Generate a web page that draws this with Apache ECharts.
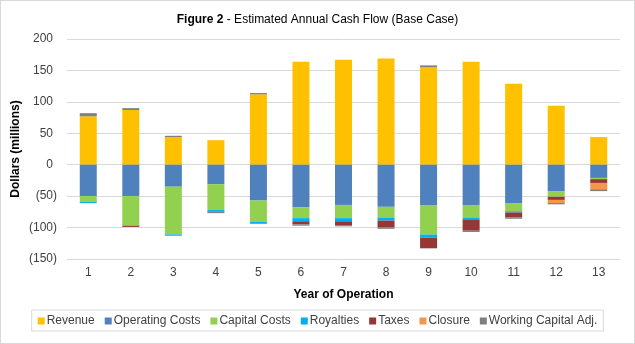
<!DOCTYPE html>
<html>
<head>
<meta charset="utf-8">
<script src="https://cdn.jsdelivr.net/npm/echarts@6/dist/echarts.min.js"></script>
<style>
  html, body { margin: 0; padding: 0; background: #fff; }
  #chart { position: absolute; left: 0; top: 0; width: 633px; height: 342px; border: 1px solid #d9d9d9; }
</style>
</head>
<body>
<div id="chart"></div>
<script>
// Annual cash flow components, $ millions
const years = ['1', '2', '3', '4', '5', '6', '7', '8', '9', '10', '11', '12', '13'];
const revenue = [77, 87, 44, 39, 112, 164, 167, 169, 155, 164, 129, 94, 44];
const operatingCosts = [-50, -50, -35, -31, -57, -68, -64, -67, -65, -65, -61, -42, -21];
const capitalCosts = [-9, -47, -76, -41, -34, -17, -21, -17, -46, -19, -13, -9, -2];
const royalties = [-2, 0, -2, -2, -3, -5, -5, -5, -5, -3, -2, 0, 0];
const taxes = [0, -2, 0, 0, 0, -5, -6, -11, -17, -18, -8, -5, -6];
const closure = [0, 0, 0, 0, 0, 0, 0, 0, 0, 0, 0, -5, -10];
const workingCapital = [5, 3, 2, -3, 2, -2, -2, -2, 3, -2, -2, -2, -3];

const seriesDefs = [
  ['Revenue', revenue, '#FFC000'],
  ['Operating Costs', operatingCosts, '#4F81BD'],
  ['Capital Costs', capitalCosts, '#92D050'],
  ['Royalties', royalties, '#00B0F0'],
  ['Taxes', taxes, '#953735'],
  ['Closure', closure, '#F79646'],
  ['Working Capital Adj.', workingCapital, '#7F7F7F']
];

const font = '"Liberation Sans", Arial, sans-serif';
const chart = echarts.init(document.getElementById('chart'));

chart.setOption({
  animation: false,
  textStyle: { fontFamily: font },
  title: {
    text: '{b|Figure 2} - Estimated Annual Cash Flow (Base Case)',
    left: 'center',
    top: 8,
    textStyle: {
      fontFamily: font,
      fontSize: 12,
      fontWeight: 'normal',
      color: '#000',
      rich: { b: { fontFamily: font, fontSize: 12, fontWeight: 'bold', color: '#000' } }
    }
  },
  legend: {
    bottom: 12,
    left: 'center',
    itemWidth: 7,
    itemHeight: 7,
    itemGap: 10,
    icon: 'rect',
    padding: [5, 6, 4, 6],
    borderColor: '#d9d9d9',
    borderWidth: 1,
    textStyle: { fontFamily: font, fontSize: 12, color: '#404040', padding: [0, 0, 0, -3] },
    data: seriesDefs.map(d => d[0])
  },
  grid: { left: 66, right: 14, top: 38, bottom: 84, containLabel: false, outerBoundsMode: 'none' },
  xAxis: {
    type: 'category',
    data: years,
    name: 'Year of Operation',
    nameLocation: 'middle',
    nameGap: 30,
    nameMoveOverlap: false,
    nameTextStyle: { fontFamily: font, fontSize: 12, fontWeight: 'bold', color: '#000' },
    axisLine: { show: false },
    axisTick: { show: false },
    axisLabel: { fontFamily: font, fontSize: 12, color: '#404040', margin: 8 }
  },
  yAxis: {
    type: 'value',
    min: -150,
    max: 200,
    interval: 50,
    name: 'Dollars (millions)',
    nameLocation: 'middle',
    nameGap: 45,
    nameRotate: 90,
    nameMoveOverlap: false,
    nameTextStyle: { fontFamily: font, fontSize: 12, fontWeight: 'bold', color: '#000' },
    axisLine: { show: false },
    axisTick: { show: false },
    splitLine: { lineStyle: { color: '#d9d9d9', width: 1 } },
    axisLabel: {
      fontFamily: font,
      fontSize: 12,
      color: '#404040',
      margin: 10,
      formatter: v => (v < 0 ? '(' + (-v) + ')' : '{p|' + v + '}'),
      rich: { p: { fontFamily: font, fontSize: 12, color: '#404040', padding: [0, 4, 0, 0] } }
    }
  },
  series: seriesDefs.map(([name, data, color]) => ({
    name,
    type: 'bar',
    stack: 'cash',
    data,
    barWidth: '40%',
    itemStyle: { color },
    emphasis: { disabled: true }
  }))
});
</script>
</body>
</html>
